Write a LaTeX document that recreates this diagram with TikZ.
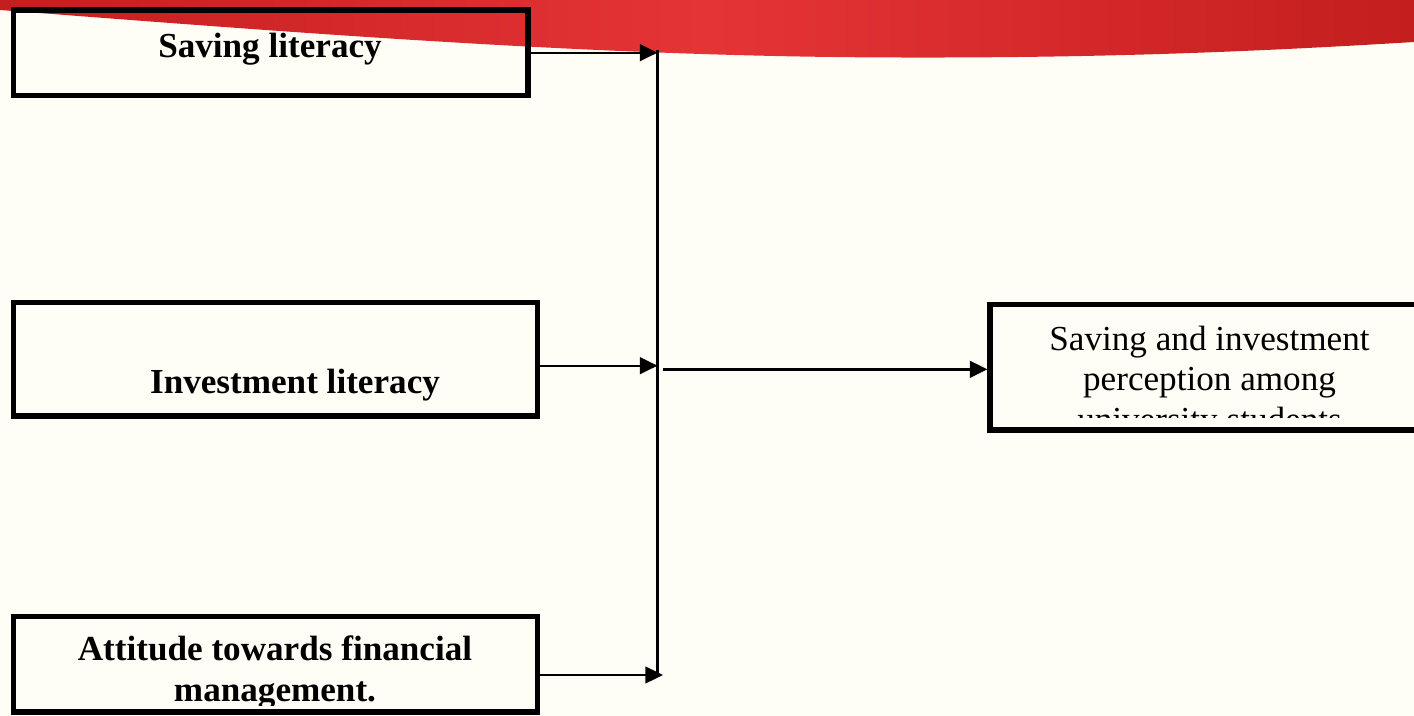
\documentclass[tikz,border=0pt]{standalone}
\usepackage{fontspec}
\setmainfont{Liberation Serif}
\usetikzlibrary{arrows.meta, positioning, calc}
\definecolor{paper}{HTML}{FFFEF6}
\definecolor{banddark}{HTML}{C41E1F}
\definecolor{bandlight}{HTML}{E53436}

\begin{document}
\begin{tikzpicture}[x=0.02cm, y=-0.02cm, >={Triangle[length=10pt, width=9.5pt]}]
    \tikzstyle{factor} = [rectangle, draw=black, line width=3.1pt, inner sep=0pt]
    \tikzstyle{lbl} = [inner sep=0pt, anchor=base, align=center, font=\fontsize{20}{22.8}\selectfont]
    \tikzstyle{flow} = [draw, ->, line width=1.1pt]

    % page and red band
    \useasboundingbox (0,0) rectangle (1414,716);
    \fill [paper] (0,0) rectangle (1414,716);
    \shade [left color=banddark, right color=banddark, middle color=bandlight]
        (0,0) -- (0,10) .. controls (300,33) and (600,57) .. (900,57.5)
        .. controls (1100,58) and (1250,52) .. (1414,42) -- (1414,0) -- cycle;

    % texts (base = last line)
    \node [lbl, font=\fontsize{20}{22.8}\selectfont\bfseries] (savT) at (270,58) {Saving literacy};
    \node [lbl, font=\fontsize{20}{22.8}\selectfont\bfseries] (invT) at (295,394) {Investment literacy};
    \begin{scope}
        \clip (16,619) rectangle (535,705);
        \node [lbl, font=\fontsize{20}{22.8}\selectfont\bfseries] (attT) at (275,701) {Attitude towards financial\\management.};
    \end{scope}
    \begin{scope}
        \clip (993,307) rectangle (1414,417);
        \node [lbl] (perT) at (1209.5,431) {Saving and investment\\perception among\\university students};
    \end{scope}

    % boxes
    \node [factor, minimum width=10.29cm, minimum height=1.71cm] (sav) at (270.75,52.75) {};
    \node [factor, minimum width=10.48cm, minimum height=2.27cm] (inv) at (275.5,359.25) {};
    \node [factor, minimum width=10.48cm, minimum height=1.91cm] (att) at (275.5,664.25) {};
    \node [factor, minimum width=8.54cm, minimum height=2.51cm] (per) at (1203.5,367.25) {};

    % joins
    \coordinate (top) at (657.5,50);
    \coordinate (bot) at (657.5,676);
    \coordinate (jS) at (657.5,52.7);
    \coordinate (jI) at (657.5,365.7);
    \coordinate (jA) at (663,675);
    \coordinate (jM) at (663,369.3);

    \path [draw, line width=1.3pt] (top) -- (bot);
    \path [flow] (sav.east |- jS) -- (jS);
    \path [flow] (inv.east |- jI) -- (jI);
    \path [flow] (att.east |- jA) -- (jA);
    \path [flow, line width=1.7pt] (jM) -- (per.west |- jM);
\end{tikzpicture}
\end{document}
